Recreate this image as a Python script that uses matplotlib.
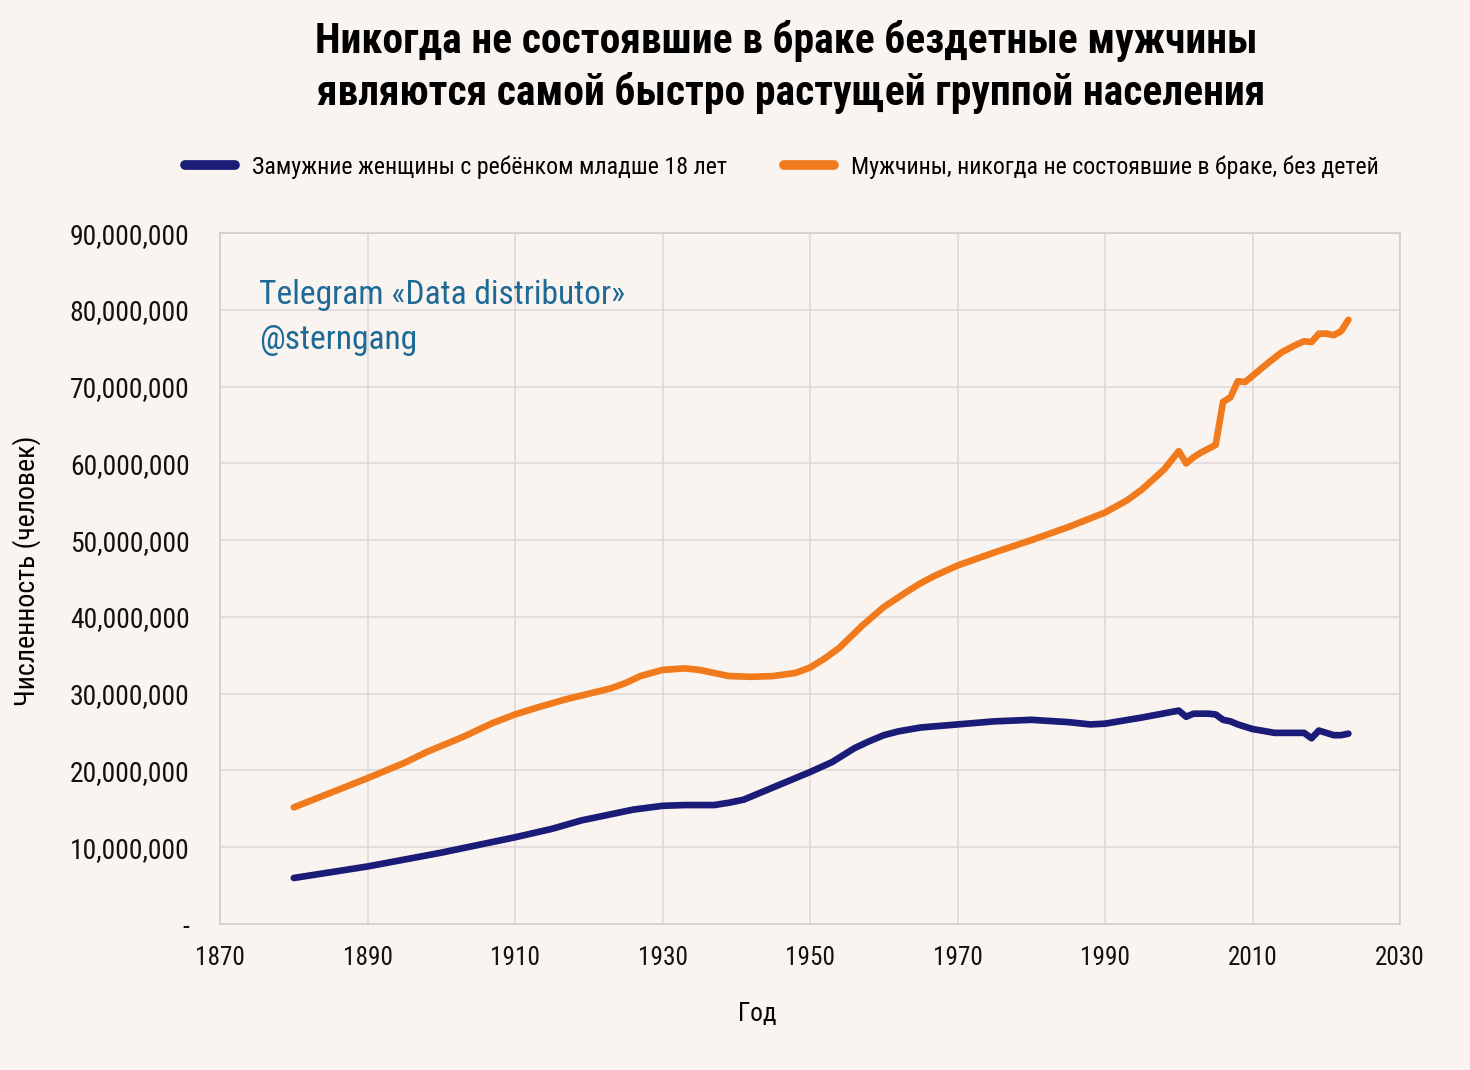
import matplotlib.pyplot as plt
from matplotlib import font_manager
from matplotlib.ticker import FuncFormatter

fonts = font_manager.fontManager.ttflist
names = {f.name for f in fonts}
stretch = 'normal'
family = None
for cand in ['Liberation Sans Narrow', 'Roboto Condensed', 'Open Sans Condensed', 'Arial Narrow']:
    if cand in names:
        family = cand
        break
if family is None:
    if any(f.name == 'DejaVu Sans' and f.stretch in ('condensed', 'semi-condensed', 87.5, 75) for f in fonts):
        family, stretch = 'DejaVu Sans', 'condensed'
    else:
        family = 'Roboto'
plt.rcParams['font.family'] = [family, 'DejaVu Sans']
plt.rcParams['font.stretch'] = stretch

# married women with a child under 18 (millions)
years_w = [1880, 1890, 1900, 1910, 1915, 1919, 1922, 1926, 1930, 1933, 1935,
           1937, 1939, 1941, 1944, 1947, 1950, 1953, 1956, 1958, 1960, 1962,
           1965, 1970, 1975, 1980, 1985, 1988, 1990, 1995, 2000, 2001, 2002,
           2004, 2005, 2006, 2007, 2008, 2010, 2013, 2016, 2017, 2018, 2019,
           2020, 2021, 2022, 2023]
women = [6.0, 7.5, 9.3, 11.3, 12.4, 13.5, 14.1, 14.9, 15.4, 15.5, 15.5,
         15.5, 15.8, 16.2, 17.4, 18.6, 19.8, 21.1, 22.9, 23.8, 24.6, 25.1,
         25.6, 26.0, 26.4, 26.6, 26.3, 26.0, 26.1, 26.9, 27.8, 27.0, 27.4,
         27.4, 27.3, 26.6, 26.4, 26.0, 25.4, 24.9, 24.9, 24.9, 24.2, 25.2,
         24.9, 24.6, 24.6, 24.8]

# never married men without children (millions)
years_m = [1880, 1885, 1890, 1895, 1898, 1903, 1907, 1910, 1913, 1917, 1920,
           1923, 1925, 1927, 1930, 1933, 1935, 1937, 1939, 1942, 1945, 1948,
           1950, 1952, 1954, 1957, 1960, 1963, 1965, 1967, 1970, 1975, 1980,
           1985, 1990, 1993, 1995, 1998, 2000, 2001, 2002, 2003, 2004, 2005,
           2006, 2007, 2008, 2009, 2010, 2012, 2014, 2016, 2017, 2018, 2019,
           2020, 2021, 2022, 2023]
men = [15.2, 17.1, 19.0, 21.0, 22.4, 24.4, 26.2, 27.3, 28.2, 29.3, 30.0,
       30.7, 31.4, 32.3, 33.1, 33.3, 33.1, 32.7, 32.3, 32.2, 32.3, 32.7,
       33.4, 34.6, 36.0, 38.8, 41.3, 43.2, 44.4, 45.4, 46.7, 48.4, 50.0,
       51.7, 53.6, 55.2, 56.6, 59.2, 61.6, 60.0, 60.8, 61.4, 61.9, 62.4,
       68.0, 68.6, 70.7, 70.6, 71.4, 73.0, 74.5, 75.5, 75.9, 75.8, 76.9,
       76.9, 76.7, 77.2, 78.7]

x_ticks = [1870, 1890, 1910, 1930, 1950, 1970, 1990, 2010, 2030]

bg = '#faf4f0'
navy = '#1b1b78'
orange = '#f07a1c'

fig = plt.figure(figsize=(14.7, 10.7), dpi=100, facecolor=bg)
ax = fig.add_axes([0.1497, 0.1364, 0.8027, 0.6458], facecolor=bg)
renderer = fig.canvas.get_renderer()


def fit(t, width_px):
    # scale a text so that it spans the width seen in the reference
    w = t.get_window_extent(renderer).width
    t.set_fontsize(t.get_fontsize() * width_px / w)


ax.plot(years_w, [v * 1e6 for v in women], color=navy, lw=4.8,
        solid_capstyle='round', solid_joinstyle='round',
        label='Замужние женщины с ребёнком младше 18 лет')
ax.plot(years_m, [v * 1e6 for v in men], color=orange, lw=4.8,
        solid_capstyle='round', solid_joinstyle='round',
        label='Мужчины, никогда не состоявшие в браке, без детей')

ax.set_xlim(1870, 2030)
ax.set_ylim(0, 90e6)
ax.set_xticks(x_ticks)
ax.set_yticks(range(0, 90000001, 10000000))
ax.yaxis.set_major_formatter(FuncFormatter(lambda v, p: '-' if v == 0 else f'{int(v):,}'))
ax.grid(True, color='#dcd8d5', lw=1.1)
ax.set_axisbelow(True)
for s in ax.spines.values():
    s.set_color('#cfcbc8')
    s.set_linewidth(1.1)
ax.tick_params(length=0, colors='#111111')
ax.tick_params(axis='y', pad=22)
ax.tick_params(axis='x', pad=16)

# size tick labels to the reference widths
tmp = fig.text(0, 0, '90,000,000', fontsize=20)
fit(tmp, 120)
ysize = tmp.get_fontsize()
tmp.set_text('1870')
tmp.set_fontsize(20)
fit(tmp, 50)
xsize = tmp.get_fontsize()
tmp.set_text('Численность (человек)')
tmp.set_fontsize(20)
fit(tmp, 270)
ylsize = tmp.get_fontsize()
tmp.remove()
ax.tick_params(axis='y', labelsize=ysize)
ax.tick_params(axis='x', labelsize=xsize)

ax.set_xlabel('Год', fontsize=xsize)
ax.xaxis.set_label_coords(0.455, -0.113)
ax.set_ylabel('Численность (человек)', fontsize=ylsize)
ax.yaxis.set_label_coords(-0.152, 0.512)

wm = ax.text(0.033, 0.933, 'Telegram «Data distributor»', transform=ax.transAxes,
             fontsize=25, color='#1d6a96', va='top')
fit(wm, 366)
ax.text(0.033, 0.868, '@sterngang', transform=ax.transAxes,
        fontsize=wm.get_fontsize(), color='#1d6a96', va='top')

t1 = fig.text(0.535, 0.981, 'Никогда не состоявшие в браке бездетные мужчины',
              ha='center', va='top', fontsize=29, fontweight='bold')
fit(t1, 938)
fig.text(0.538, 0.933, 'являются самой быстро растущей группой населения',
         ha='center', va='top', fontsize=t1.get_fontsize(), fontweight='bold')

tmp = fig.text(0, 0, 'Замужние женщины с ребёнком младше 18 лет', fontsize=18)
fit(tmp, 476)
lsize = tmp.get_fontsize()
tmp.remove()

fig.legend(loc='center', bbox_to_anchor=(0.532, 0.844), ncol=2, frameon=False,
           fontsize=lsize, handlelength=2.1, columnspacing=2.4, handletextpad=0.7)
leg = fig.legends[0]
for h in leg.get_lines():
    h.set_linewidth(7)

fig.savefig('out.png', dpi=100, facecolor=bg)
